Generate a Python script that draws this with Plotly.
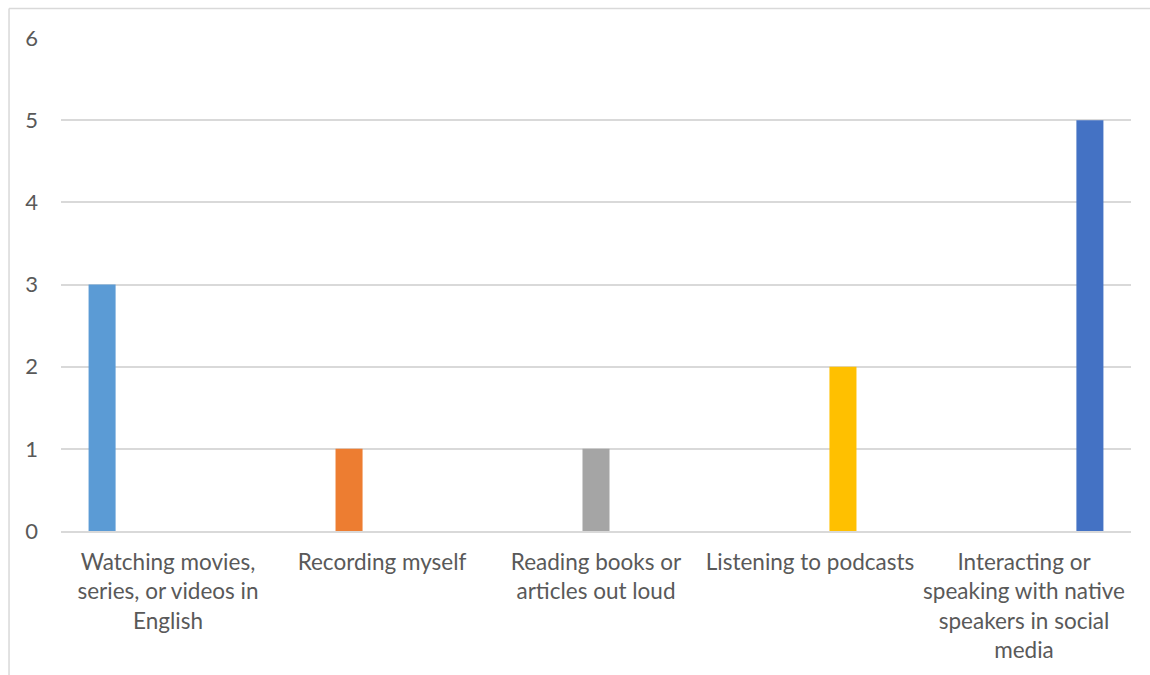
import plotly.graph_objects as go

# Categories (wrapped for display) and one series per category
categories = [
    "Watching movies,<br>series, or videos in<br>English",
    "Recording myself",
    "Reading books or<br>articles out loud",
    "Listening to podcasts",
    "Interacting or<br>speaking with native<br>speakers in social<br>media",
]
series_names = [
    "Watching movies, series, or videos in English",
    "Recording myself",
    "Reading books or articles out loud",
    "Listening to podcasts",
    "Interacting or speaking with native speakers in social media",
]
counts = [3, 1, 1, 2, 5]
colors = ["#5B9BD5", "#ED7D31", "#A5A5A5", "#FFC000", "#4472C4"]
y_ticks = [0, 1, 2, 3, 4, 5, 6]

FONT = "Lato"
TEXT = "#595959"

fig = go.Figure()
for i, (name, val, col) in enumerate(zip(series_names, counts, colors)):
    ys = [None] * len(categories)
    ys[i] = val
    fig.add_trace(go.Bar(
        x=categories, y=ys, name=name,
        marker=dict(color=col, line=dict(width=0)),
        showlegend=False,
    ))

# Plot area spans x 60.5..1131 px, y 38..531 px
L, R, T, B = 60.5, 1131, 38, 531
W, H = 1150, 675
pw, ph = R - L, B - T


def px_x(x):
    return (x - L) / pw


def px_y(y):
    return (B - y) / ph


fig.update_layout(
    width=W, height=H,
    margin=dict(l=L, r=W - R, t=T, b=H - B, pad=0),
    paper_bgcolor="white", plot_bgcolor="white",
    barmode="group", bargap=0.23, bargroupgap=0.18,
    font=dict(family=FONT, size=22.5, color=TEXT),
    xaxis=dict(
        showgrid=False, showline=True, linecolor="#D9D9D9", linewidth=2,
        ticks="", tickfont=dict(family=FONT, size=22.5, color=TEXT),
        ticklabelstandoff=10, fixedrange=True,
    ),
    yaxis=dict(
        range=[0, 6], tickvals=y_ticks, showgrid=True, gridcolor="#D9D9D9",
        gridwidth=2, zeroline=False, showline=False, ticks="",
        tickfont=dict(family=FONT, size=22, color=TEXT),
        ticklabelstandoff=22, fixedrange=True,
    ),
    shapes=[
        # chart frame (left and top edges)
        dict(type="line", xref="paper", yref="paper",
             x0=px_x(8.5), x1=px_x(8.5), y0=px_y(8.5), y1=px_y(H + 5),
             line=dict(color="#D9D9D9", width=1.5)),
        dict(type="line", xref="paper", yref="paper",
             x0=px_x(8.5), x1=px_x(W + 5), y0=px_y(8.5), y1=px_y(8.5),
             line=dict(color="#D9D9D9", width=1.5)),
    ],
)

fig.write_html("out.html")
